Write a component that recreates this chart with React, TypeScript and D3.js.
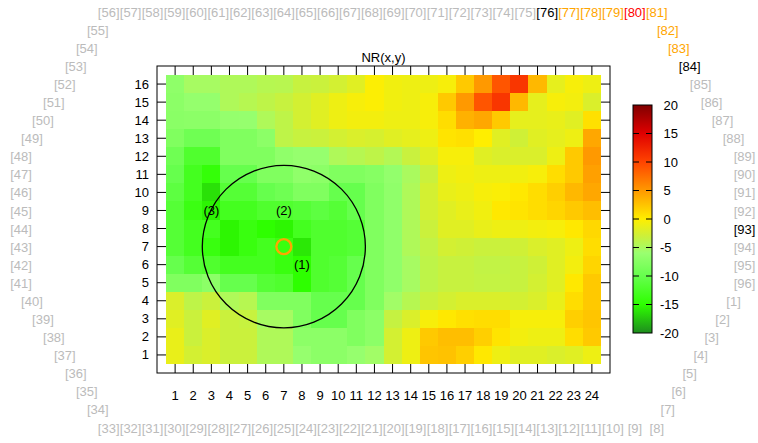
import React from 'react';
import * as d3 from 'd3';

const W = 758;
const H = 443;

const xCats = [1, 2, 3, 4, 5, 6, 7, 8, 9, 10, 11, 12, 13, 14, 15, 16, 17, 18, 19, 20, 21, 22, 23, 24];
const yCats = [1, 2, 3, 4, 5, 6, 7, 8, 9, 10, 11, 12, 13, 14, 15, 16];

// NR(x,y): first row is y = 16, last row is y = 1; each row holds x = 1..24
const nrRows = [
  [-6.8, -5.2, -5.2, -4.7, -4.7, -4.3, -4.2, -3.3, -3.1, -2.6, -1.8, -0.2, -0.8, -1.0, -1.0, -0.5, 2.2, 5.0, 9.0, 11.0, 3.2, -1.5, -0.5, -1.0],
  [-7.0, -6.3, -6.3, -4.7, -4.3, -3.8, -3.3, -2.6, -1.8, -1.0, -0.5, -0.2, -0.8, -1.0, -0.5, 2.2, 5.0, 9.0, 11.0, 3.2, -1.5, -0.5, -0.7, -2.2],
  [-7.2, -7.0, -7.0, -6.3, -6.2, -4.7, -3.8, -2.6, -1.8, -1.0, -0.7, -0.7, -1.0, -1.0, -0.5, 1.0, 3.6, 4.2, 2.2, -1.5, -1.5, -1.3, -1.8, 0.8],
  [-8.0, -9.3, -9.3, -8.0, -8.0, -7.0, -3.8, -3.3, -3.1, -2.6, -2.2, -2.4, -1.8, -1.5, -1.0, 0.6, 0.8, 0.0, -1.8, -2.8, -1.8, -1.5, -1.0, 4.2],
  [-9.3, -12.0, -12.0, -8.0, -8.0, -8.0, -6.7, -6.2, -6.2, -4.7, -4.3, -3.8, -4.5, -3.2, -1.8, -0.5, -0.5, -1.8, -2.2, -2.2, -2.2, -1.0, 2.2, 5.0],
  [-10.0, -13.0, -14.5, -10.0, -10.0, -8.0, -8.0, -6.7, -7.0, -8.0, -8.0, -7.5, -6.5, -5.0, -3.1, -1.0, -0.7, -1.0, -1.0, -0.8, -0.5, 1.0, 2.2, 4.6],
  [-10.8, -13.0, -16.3, -11.5, -11.5, -10.0, -9.3, -8.0, -8.0, -10.0, -10.0, -8.0, -6.7, -4.7, -2.6, -1.3, -1.0, -0.5, -0.3, 0.35, 1.0, 1.8, 3.2, 4.2],
  [-11.5, -13.8, -15.5, -13.0, -13.0, -12.0, -12.0, -11.5, -10.8, -11.5, -10.0, -8.0, -6.7, -4.7, -2.6, -1.8, -1.3, -0.8, 0.35, 0.6, 1.0, 1.5, 2.2, 2.8],
  [-11.5, -13.0, -13.0, -15.4, -14.0, -15.0, -15.4, -13.0, -12.0, -12.0, -11.5, -8.0, -6.7, -4.7, -3.1, -1.8, -1.8, -1.3, -1.0, -1.0, -0.7, -0.5, 0.35, 1.3],
  [-11.5, -13.0, -14.0, -15.4, -14.0, -13.0, -14.0, -16.0, -12.0, -12.0, -11.5, -8.0, -6.7, -4.7, -3.6, -2.6, -2.8, -3.1, -3.1, -2.8, -2.2, -1.8, -1.0, 1.0],
  [-10.0, -11.5, -12.0, -13.0, -13.0, -13.0, -14.0, -15.0, -12.0, -11.5, -10.0, -8.0, -6.7, -5.2, -3.8, -3.3, -3.3, -3.6, -3.6, -3.3, -2.8, -1.8, -0.7, 1.5],
  [-8.0, -8.0, -7.0, -10.0, -10.0, -11.5, -12.0, -15.0, -12.0, -11.5, -10.0, -8.0, -6.7, -5.2, -3.8, -3.3, -3.3, -3.5, -3.5, -3.3, -2.6, -1.8, 0.35, 2.2],
  [-2.2, -3.8, -3.1, -4.7, -4.3, -8.0, -8.0, -8.0, -10.0, -10.0, -10.0, -8.0, -5.5, -4.3, -3.1, -2.6, -2.2, -2.2, -2.2, -2.6, -2.2, -1.3, 1.0, 2.2],
  [-1.8, -3.1, -1.8, -3.1, -3.3, -5.2, -5.2, -8.0, -10.0, -10.0, -8.0, -7.0, -3.4, -2.2, -0.5, 0.35, 0.8, 1.0, 1.0, -0.5, -0.5, -0.5, 1.8, 2.4],
  [-1.3, -3.1, -2.2, -3.1, -3.1, -4.7, -4.7, -7.0, -7.0, -7.0, -8.0, -7.0, -2.6, -1.0, 2.2, 2.8, 2.8, 1.8, 0.6, -0.7, -1.0, -1.0, 1.0, 2.2],
  [-1.3, -2.6, -2.2, -3.1, -3.1, -4.7, -4.7, -6.2, -7.0, -7.0, -6.2, -5.5, -2.6, -1.0, 2.4, 2.6, 1.8, 0.35, -1.0, -1.8, -1.8, -2.2, -1.8, -1.0],
];

const cbTicks = [-20, -15, -10, -5, 0, 5, 10, 15, 20];
const paletteStops = [-20, -15, -10, -6, -3, 0, 5, 10, 15, 20];
const paletteColors = ['#1e8c1e', '#2eff00', '#66ff4d', '#99ff70', '#ccf03a', '#ffee00', '#ff9900', '#ff4400', '#e00000', '#800000'];

const circleCenter = [7, 7];
const circleRadius = 4.5;
const pointLabels = [
  { text: '(1)', x: 8, y: 6 },
  { text: '(2)', x: 7, y: 9 },
  { text: '(3)', x: 3, y: 9 },
];

// labels [1]..[96] around the plot, walked from [1] on the right side
const ringStart = [65, 16];
const ringSegments = [
  { n: 7, dc: -1, dr: 1 },
  { n: 25, dc: -2, dr: 0 },
  { n: 8, dc: -1, dr: -1 },
  { n: 7, dc: 0, dr: -1 },
  { n: 8, dc: 1, dr: -1 },
  { n: 25, dc: 2, dr: 0 },
  { n: 8, dc: 1, dr: 1 },
  { n: 7, dc: 0, dr: 1 },
];
const ringHighlights: Record<number, string> = {
  76: '#000000', 77: '#ffa500', 78: '#ffa500', 79: '#ffa500', 80: '#ff0000',
  81: '#ffa500', 82: '#ffa500', 83: '#ffa500', 84: '#000000', 93: '#000000',
};

const FONT = '"Liberation Sans", Arial, sans-serif';

export default function App() {
  const x = d3.scaleLinear().domain([0, 25]).range([157, 610]);
  const y = d3.scaleLinear().domain([0, 17]).range([373, 66]);
  const color = d3.scaleLinear<string>().domain(paletteStops).range(paletteColors).interpolate(d3.interpolateRgb).clamp(true);
  const cb = d3.scaleLinear().domain([-20, 20]).range([333, 105]);
  const cbX0 = 633;
  const cbX1 = 652;

  const ringX = d3.scaleLinear().domain([0, 66]).range([21, 744.5]);
  const ringY = d3.scaleLinear().domain([0, 23]).range([12, 428]);

  // walk the ring of labels
  const ring: { id: number; c: number; r: number }[] = [];
  let c = ringStart[0], r = ringStart[1];
  ring.push({ id: 1, c, r });
  ringSegments.forEach((s) => {
    for (let i = 0; i < s.n; i++) {
      c += s.dc; r += s.dr;
      ring.push({ id: ring.length + 1, c, r });
    }
  });

  const cells: { cx: number; cy: number; v: number }[] = [];
  nrRows.forEach((row, j) => {
    row.forEach((v, i) => cells.push({ cx: xCats[i], cy: yCats[yCats.length - 1 - j], v }));
  });

  const gradStops = d3.range(0, 41).map((k) => -20 + k);
  const tick = 9;

  return (
    <svg width={W} height={H} style={{ position: 'absolute', left: 0, top: 0, background: '#fff' }} fontFamily={FONT}>
      <defs>
        <linearGradient id="cbGrad" x1="0" y1="1" x2="0" y2="0">
          {gradStops.map((v) => (
            <stop key={v} offset={(v + 20) / 40} stopColor={color(v)} />
          ))}
        </linearGradient>
      </defs>
      <rect width={W} height={H} fill="#fff" />

      <g shapeRendering="crispEdges">
        {cells.map((d, i) => (
          <rect key={i} x={x(d.cx - 0.5)} y={y(d.cy + 0.5)} width={x(d.cx + 0.5) - x(d.cx - 0.5) + 0.5}
            height={y(d.cy - 0.5) - y(d.cy + 0.5) + 0.5} fill={color(d.v)} />
        ))}
      </g>

      <g stroke="#000" strokeWidth={1}>
        {xCats.map((v) => (
          <g key={v}>
            <line x1={x(v)} x2={x(v)} y1={y(0)} y2={y(0) - tick} />
            <line x1={x(v)} x2={x(v)} y1={y(17)} y2={y(17) + tick} />
          </g>
        ))}
        {yCats.map((v) => (
          <g key={v}>
            <line x1={x(0)} x2={x(0) + tick} y1={y(v)} y2={y(v)} />
            <line x1={x(25)} x2={x(25) - tick} y1={y(v)} y2={y(v)} />
          </g>
        ))}
      </g>
      <rect x={x(0)} y={y(17)} width={x(25) - x(0)} height={y(0) - y(17)} fill="none" stroke="#000" strokeWidth={1} />

      {xCats.map((v) => (
        <text key={v} x={x(v)} y={395} dy="0.35em" textAnchor="middle" fontSize={13}>{v}</text>
      ))}
      {yCats.map((v) => (
        <text key={v} x={149} y={y(v)} dy="0.35em" textAnchor="end" fontSize={13}>{v}</text>
      ))}
      <text x={(x(0) + x(25)) / 2} y={57} dy="0.35em" textAnchor="middle" fontSize={13}>NR(x,y)</text>

      <ellipse cx={x(circleCenter[0])} cy={y(circleCenter[1])}
        rx={x(circleRadius) - x(0)} ry={y(0) - y(circleRadius)} fill="none" stroke="#000" strokeWidth={1.3} />
      <circle cx={x(circleCenter[0])} cy={y(circleCenter[1])} r={7.5} fill="none" stroke="#ffa500" strokeWidth={2.4} />
      {pointLabels.map((p) => (
        <text key={p.text} x={x(p.x)} y={y(p.y)} dy="0.35em" textAnchor="middle" fontSize={13}>{p.text}</text>
      ))}

      <rect x={cbX0} y={cb(20)} width={cbX1 - cbX0} height={cb(-20) - cb(20)} fill="url(#cbGrad)" stroke="#000" strokeWidth={1} />
      <g stroke="#000" strokeWidth={1}>
        {cbTicks.filter((v) => Math.abs(v) < 20).map((v) => (
          <g key={v}>
            <line x1={cbX0} x2={cbX0 + 6} y1={cb(v)} y2={cb(v)} />
            <line x1={cbX1} x2={cbX1 - 6} y1={cb(v)} y2={cb(v)} />
          </g>
        ))}
      </g>
      {cbTicks.map((v) => (
        <text key={v} x={660} y={cb(v)} dy="0.35em" fontSize={13} style={{ whiteSpace: 'pre' }}>{v < 0 ? `${v}` : ` ${v}`}</text>
      ))}

      {ring.map((d) => (
        <text key={d.id} x={ringX(d.c)} y={ringY(d.r)} dy="0.35em" textAnchor="middle" fontSize={13}
          fill={ringHighlights[d.id] || '#bbbbbb'}>{`[${d.id}]`}</text>
      ))}
    </svg>
  );
}
